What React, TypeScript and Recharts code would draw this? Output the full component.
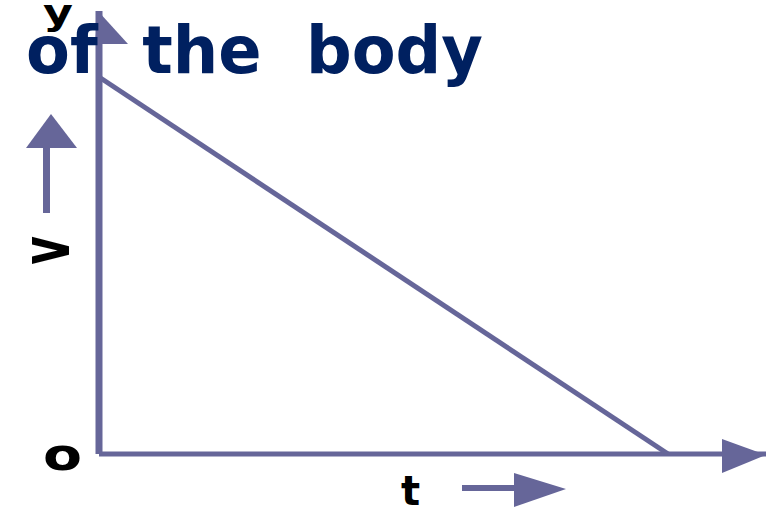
import React from 'react';
import { LineChart, Line, XAxis, YAxis, ReferenceLine, ReferenceDot } from 'recharts';

// velocity-time graph: body slowing down uniformly to rest
const times = [0, 10];
const velocities = [10, 0];
const tMax = 11.72;
const vMax = 11.75;

const axisColor = '#666699';
const titleColor = '#002060';
const font = '"DejaVu Sans", Verdana, sans-serif';

const data = times.map((t, i) => ({ t, v: velocities[i] }));

const UpHead = (props: any) => {
    const { cx, cy } = props;
    return <polygon points={`${cx - 1},${cy} ${cx + 29},${cy + 33} ${cx - 4},${cy + 33}`} fill={axisColor} />;
};

const RightHead = (props: any) => {
    const { cx, cy } = props;
    return <polygon points={`${cx},${cy + 1} ${cx - 44},${cy - 15} ${cx - 44},${cy + 19}`} fill={axisColor} />;
};

export default function App() {
    return (
        <div style={{ position: 'absolute', left: 0, top: 0, width: 766, height: 510, background: '#fff' }}>
            <LineChart width={766} height={510} data={data} margin={{ top: 11, right: 0, bottom: 56, left: 99 }}>
                <XAxis dataKey="t" type="number" domain={[0, tMax]} hide />
                <YAxis type="number" domain={[0, vMax]} hide />
                <ReferenceLine x={0} stroke={axisColor} strokeWidth={7} />
                <ReferenceLine y={0} stroke={axisColor} strokeWidth={5} />
                <ReferenceDot x={0} y={vMax} r={1} shape={UpHead} />
                <ReferenceDot x={tMax} y={0} r={1} shape={RightHead} />
                <Line
                    type="linear"
                    dataKey="v"
                    stroke={axisColor}
                    strokeWidth={5}
                    dot={false}
                    activeDot={false}
                    isAnimationActive={false}
                />
            </LineChart>
            <svg width={766} height={510} style={{ position: 'absolute', left: 0, top: 0, pointerEvents: 'none' }}>
                <text
                    x={26}
                    y={73}
                    fontFamily={font}
                    fontWeight="bold"
                    fontSize={66}
                    fill={titleColor}
                    textLength={457}
                    lengthAdjust="spacingAndGlyphs"
                    style={{ whiteSpace: 'pre' }}
                >
                    {'of  the  body'}
                </text>
                <text x={43} y={25} fontFamily={font} fontWeight="bold" fontSize={36} fill="#000" textLength={30} lengthAdjust="spacingAndGlyphs">
                    y
                </text>
                {/* v label with upward arrow */}
                <rect x={43} y={147} width={7} height={66} fill={axisColor} />
                <polygon points="51,114 77,148 26,148" fill={axisColor} />
                <text
                    transform="translate(69,250.5) rotate(-90) scale(1,1.55)"
                    textAnchor="middle"
                    fontFamily={font}
                    fontWeight="bold"
                    fontSize={44}
                    fill="#000"
                >
                    v
                </text>
                <text x={43} y={470} fontFamily={font} fontWeight="bold" fontSize={45} fill="#000" textLength={39} lengthAdjust="spacingAndGlyphs">
                    o
                </text>
                {/* t label with right arrow */}
                <text x={401} y={505} fontFamily={font} fontWeight="bold" fontSize={40} fill="#000">
                    t
                </text>
                <rect x={462} y={485} width={54} height={6} fill={axisColor} />
                <polygon points="514,473 566,489 514,507" fill={axisColor} />
            </svg>
        </div>
    );
}
